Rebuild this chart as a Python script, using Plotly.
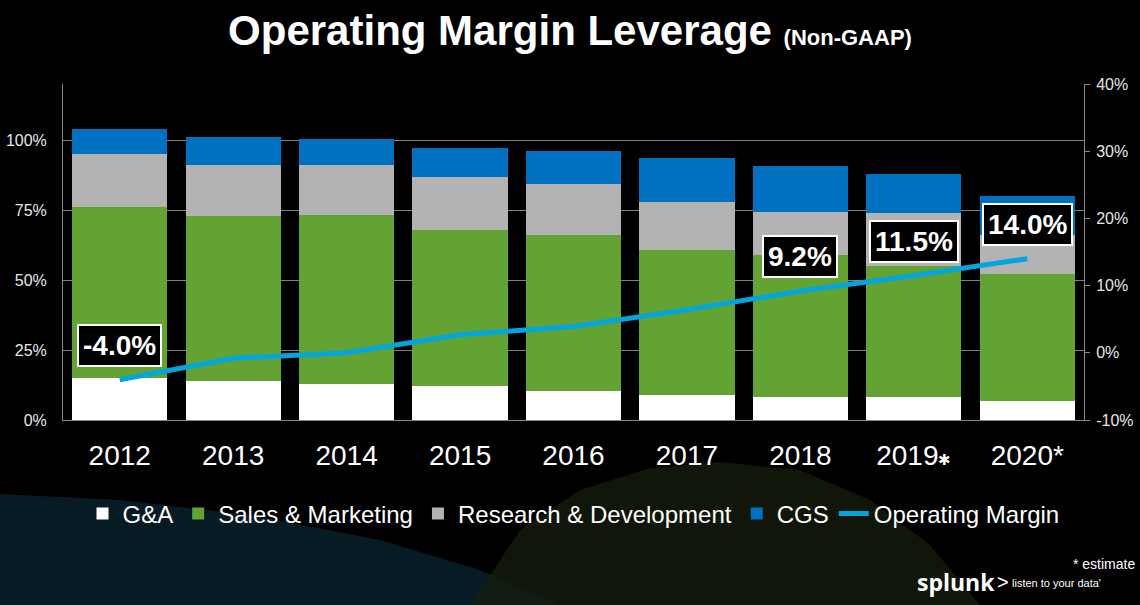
import plotly.graph_objects as go

years = ["2012", "2013", "2014", "2015", "2016", "2017", "2018", "2019", "2020"]
year_labels = ["2012", "2013", "2014", "2015", "2016", "2017", "2018",
               "2019<span style='font-size:15px'>✱</span>", "2020*"]
ga = [15.0, 14.0, 13.0, 12.1, 10.5, 9.0, 8.1, 8.1, 6.9]
sales_marketing = [61.0, 59.0, 60.2, 55.6, 55.6, 51.7, 50.8, 47.0, 45.2]
research_dev = [19.0, 18.0, 17.7, 19.1, 18.2, 17.3, 15.3, 18.8, 14.0]
cgs = [9.0, 10.2, 9.4, 10.2, 11.8, 15.7, 16.5, 13.9, 14.0]
operating_margin = [-4.0, -0.8, 0.0, 2.7, 3.9, 6.4, 9.2, 11.5, 14.0]
labeled_years = ["2012", "2018", "2019", "2020"]
labeled_text = ["-4.0%", "9.2%", "11.5%", "14.0%"]
left_ticks = [0, 25, 50, 75, 100]
right_ticks = [-10, 0, 10, 20, 30, 40]

FONT = "Arial, Liberation Sans, sans-serif"
W, H = 1140, 605
ML, MR, MT, MB = 63, 56, 84, 185
PW, PH = W - ML - MR, H - MT - MB


def px(x, y):
    return (x - ML) / PW, (H - MB - y) / PH


fig = go.Figure()
colors = ["#ffffff", "#63a334", "#b3b3b3", "#0070c0"]
names = ["G&A", "Sales & Marketing", "Research & Development", "CGS"]
for name, vals, col in zip(names, [ga, sales_marketing, research_dev, cgs], colors):
    fig.add_trace(go.Bar(x=years, y=vals, name=name, marker=dict(color=col, line=dict(width=0)),
                         yaxis="y"))

fig.add_trace(go.Scatter(x=years, y=operating_margin, name="Operating Margin", mode="lines",
                         line=dict(color="#00a6dc", width=5), yaxis="y2"))

for yr, txt in zip(labeled_years, labeled_text):
    i = years.index(yr)
    fig.add_annotation(x=i, y=operating_margin[i], xref="x", yref="y2", text="<b>%s</b>" % txt,
                       showarrow=False, yshift=34, font=dict(family=FONT, size=28, color="white"),
                       bgcolor="black", bordercolor="white", borderwidth=2, borderpad=4)


def path(points):
    s = "M %f,%f " % px(*points[0])
    for p in points[1:]:
        s += "L %f,%f " % px(*p)
    return s + "Z"


teal = [(0, 494), (120, 500), (250, 515), (380, 540), (480, 570), (560, 605), (0, 605)]
dome = [(470, 605), (520, 530), (580, 490), (650, 468), (720, 462), (800, 470), (870, 500),
        (930, 545), (980, 605)]
fig.add_shape(type="path", path=path(teal), xref="paper", yref="paper", layer="below",
              fillcolor="rgba(10,38,52,0.7)", line=dict(width=0))
fig.add_shape(type="path", path=path(dome), xref="paper", yref="paper", layer="below",
              fillcolor="rgba(22,30,12,0.75)", line=dict(width=0))

fig.add_annotation(text="* estimate", x=px(1137, 0)[0], y=px(0, 564)[1], xref="paper", yref="paper",
                   xanchor="right", yanchor="middle", showarrow=False,
                   font=dict(family=FONT, size=14, color="white"))
fig.add_annotation(text="<b>splunk</b>", x=px(915, 0)[0], y=px(0, 582)[1], xref="paper", yref="paper",
                   xanchor="left", yanchor="middle", showarrow=False,
                   font=dict(family="Open Sans, " + FONT, size=23, color="white"))
fig.add_annotation(text=">", x=px(995, 0)[0], y=px(0, 582)[1], xref="paper", yref="paper",
                   xanchor="left", yanchor="middle", showarrow=False,
                   font=dict(family=FONT, size=20, color="white"))
fig.add_annotation(text="listen to your data'", x=px(1010, 0)[0], y=px(0, 583)[1], xref="paper",
                   yref="paper", xanchor="left", yanchor="middle", showarrow=False,
                   font=dict(family=FONT, size=11, color="white"))

fig.update_layout(
    width=W, height=H,
    margin=dict(l=ML, r=MR, t=MT, b=MB, autoexpand=False),
    paper_bgcolor="black", plot_bgcolor="rgba(0,0,0,0)",
    barmode="stack", bargap=0.16,
    font=dict(family=FONT, color="white"),
    title=dict(text="<b>Operating Margin Leverage</b> <b><span style='font-size:22px'>(Non-GAAP)</span></b>",
               x=570 / W, xanchor="center", y=1 - 30 / H, yanchor="middle",
               font=dict(family=FONT, size=42, color="white")),
    xaxis=dict(type="category", range=[-0.5, len(years) - 0.5], tickmode="array", tickvals=years,
               ticktext=year_labels, showgrid=False, automargin=False,
               showline=True, linecolor="#888888", linewidth=1, ticks="",
               tickfont=dict(family=FONT, size=28, color="white"), ticklabelstandoff=10),
    yaxis=dict(range=[0, 120], tickmode="array", tickvals=left_ticks,
               ticktext=["%d%%" % v for v in left_ticks], showgrid=True, automargin=False,
               gridcolor="#7f7f7f", gridwidth=1, showline=True, linecolor="#888888", zeroline=False,
               tickfont=dict(family=FONT, size=16, color="#e6e6e6"), ticks="",
               ticklabelstandoff=12),
    yaxis2=dict(range=[-10, 40], tickmode="array", tickvals=right_ticks,
                ticktext=["%d%%" % v for v in right_ticks], overlaying="y", side="right",
                showgrid=False, zeroline=False, showline=True, linecolor="#888888", automargin=False,
                ticks="outside", ticklen=5, tickcolor="#888888",
                tickfont=dict(family=FONT, size=16, color="#e6e6e6"), ticklabelstandoff=3),
    legend=dict(orientation="h", x=0.5, xanchor="center", y=px(0, 514)[1], yanchor="middle",
                font=dict(family=FONT, size=24, color="white"), bgcolor="rgba(0,0,0,0)",
                traceorder="normal", itemwidth=30),
    showlegend=True,
)

fig.write_html("out.html", config={"displayModeBar": False},
               post_script="document.body.style.margin='0';")
